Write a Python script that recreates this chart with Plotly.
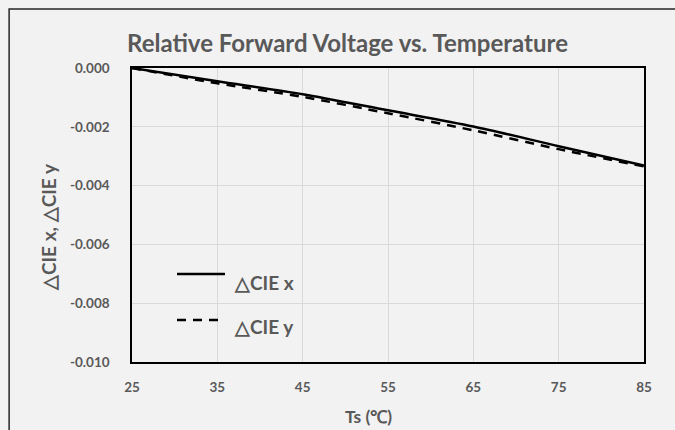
import plotly.graph_objects as go

temps = [25, 35, 45, 55, 65, 75, 85]
cie_x = [0.0, -0.00045, -0.00089, -0.00144, -0.00199, -0.00266, -0.00332]
cie_y = [0.0, -0.00052, -0.00098, -0.00154, -0.00212, -0.00276, -0.00335]
x_ticks = [25, 35, 45, 55, 65, 75, 85]
y_ticks = [0.0, -0.002, -0.004, -0.006, -0.008, -0.010]
y_tick_text = ["0.000", "-0.002", "-0.004", "-0.006", "-0.008", "-0.010"]
series_names = ["△CIE x", "△CIE y"]

FONT = "Lato"
GRAY = "#595959"

fig = go.Figure()
fig.add_trace(go.Scatter(x=temps, y=cie_x, mode="lines", name=series_names[0],
                         line=dict(color="black", width=2.5, shape="spline", smoothing=0.8),
                         showlegend=False))
fig.add_trace(go.Scatter(x=temps, y=cie_y, mode="lines", name=series_names[1],
                         line=dict(color="black", width=2.5, dash="9px,7px", shape="spline", smoothing=0.8),
                         showlegend=False))

fig.update_layout(
    width=675, height=430,
    margin=dict(l=132, r=31, t=68, b=68),
    paper_bgcolor="#f2f2f2", plot_bgcolor="#f2f2f2",
    font=dict(family=FONT, color=GRAY),
    xaxis=dict(range=[25, 85], tickvals=x_ticks, ticktext=[str(t) for t in x_ticks],
               showgrid=True, gridcolor="#d9d9d9", gridwidth=1,
               showline=True, linecolor="black", linewidth=1.5, mirror=True,
               zeroline=False, ticks="", ticklen=0, ticklabelstandoff=12,
               tickfont=dict(family=FONT, size=13.5, color=GRAY, weight="bold")),
    yaxis=dict(range=[-0.010, 0.0], tickvals=y_ticks, ticktext=y_tick_text,
               showgrid=True, gridcolor="#d9d9d9", gridwidth=1,
               showline=True, linecolor="black", linewidth=1.5, mirror=True,
               zeroline=False, ticks="", ticklen=0, ticklabelstandoff=18,
               tickfont=dict(family=FONT, size=13.5, color=GRAY, weight="bold")),
)

# Outer chart border
fig.add_shape(type="rect", xref="paper", yref="paper",
              x0=-0.240, x1=1.10, y0=-0.40, y1=1.2007,
              line=dict(color="#262626", width=1.5), layer="below")

annotations = [
    dict(text="Relative Forward Voltage vs. Temperature", x=0.42, y=1.088,
         font=dict(size=24, color=GRAY, family=FONT, weight="bold")),
    dict(text="Ts (℃)", x=0.461, y=-0.187,
         font=dict(size=17.5, color=GRAY, family=FONT, weight="bold")),
    dict(text="△CIE x, △CIE y", x=-0.164, y=0.459, textangle=-90,
         font=dict(size=19, color=GRAY, family=FONT, weight="bold")),
    dict(text=series_names[0], x=0.195, y=0.269, xanchor="left",
         font=dict(size=19, color=GRAY, family=FONT, weight="bold")),
    dict(text=series_names[1], x=0.195, y=0.122, xanchor="left",
         font=dict(size=19, color=GRAY, family=FONT, weight="bold")),
]
for a in annotations:
    a.setdefault("xanchor", "center")
    fig.add_annotation(xref="paper", yref="paper", showarrow=False, yanchor="middle", **a)

# Legend samples
fig.add_shape(type="line", xref="paper", yref="paper", x0=0.0879, x1=0.1816, y0=0.299, y1=0.299,
              line=dict(color="black", width=2.5))
fig.add_shape(type="line", xref="paper", yref="paper", x0=0.0879, x1=0.1816, y0=0.143, y1=0.143,
              line=dict(color="black", width=2.5, dash="9px,7px"))

fig.write_html("out.html")
